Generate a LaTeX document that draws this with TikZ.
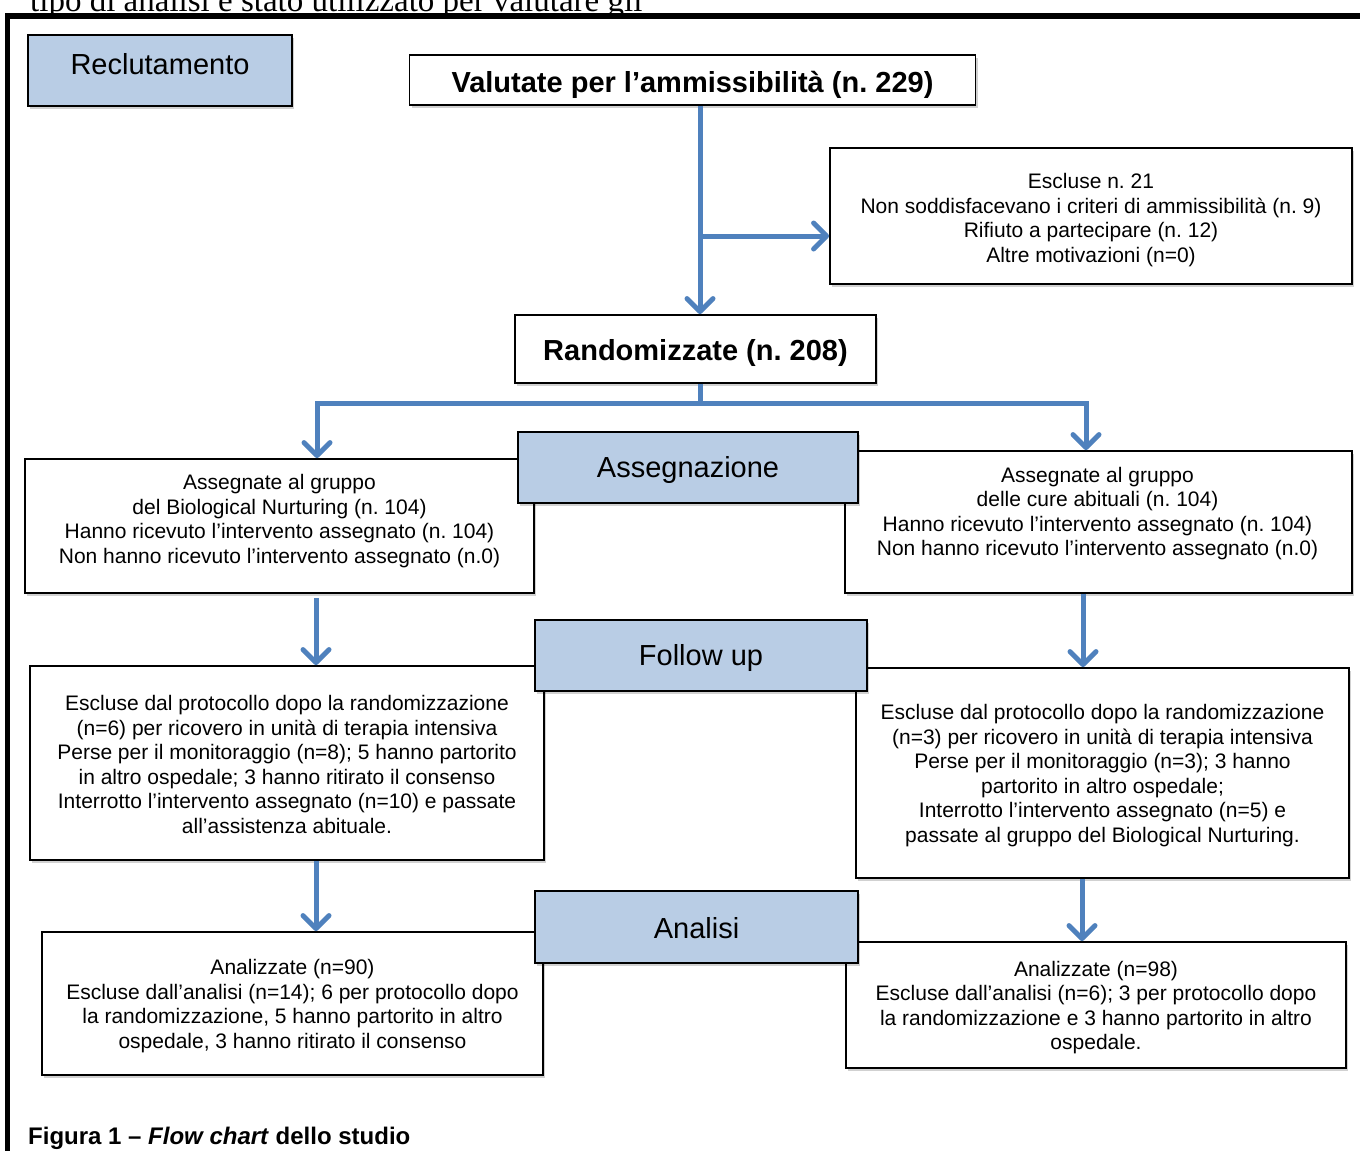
\documentclass[tikz,border=0pt]{standalone}
\usepackage{fontspec}
\setmainfont{Liberation Sans}
\newfontfamily\serifcut{Liberation Serif}
\usetikzlibrary{arrows.meta,shadows}
\definecolor{secfill}{HTML}{B9CDE5}
\definecolor{arrblue}{HTML}{4F81BD}
\frenchspacing
\tikzset{
  box/.style={draw=black, line width=1.8pt, fill=white, inner sep=0pt,
    drop shadow={shadow xshift=2pt, shadow yshift=-3pt, opacity=0.18, fill=black}},
  secbox/.style={box, fill=secfill},
  txt/.style={align=center, inner sep=0pt, font=\fontsize{21}{24.5}\selectfont},
  sectxt/.style={inner sep=0pt, font=\fontsize{29}{33}\selectfont},
  boldtxt/.style={inner sep=0pt, font=\fontsize{29}{33}\selectfont\bfseries},
  arr/.style={draw=arrblue, line width=5pt, -{Straight Barb[round, length=13pt, width=26pt, line width=5pt]}},
  conn/.style={draw=arrblue, line width=5pt},
}
\begin{document}
\begin{tikzpicture}[x=1pt, y=-1pt]
\clip (0,0) rectangle (1360,1151);
\useasboundingbox (0,0) rectangle (1360,1151);
\fill[white] (0,0) rectangle (1360,1151);
% cut-off text and frame
\node[anchor=base west, inner sep=0pt, font=\fontsize{33}{37}\selectfont\serifcut] (cut) at (30,12) {tipo di analisi è stato utilizzato per valutare gli};
\draw[line width=5.5pt] (7.5,1160) -- (7.5,16) -- (1370,16);

% boxes (bottom layer)
\node[box, minimum width=566, minimum height=50] (val) at (692.5,80) {};
\node[boldtxt] (valt) at (692.5,85) {Valutate per l’ammissibilità (n. 229)};

\node[box, minimum width=522, minimum height=136] (esc) at (1091,216) {};
\node[txt] (esct) at (1091,220) {Escluse n. 21\\Non soddisfacevano i criteri di ammissibilità (n. 9)\\Rifiuto a partecipare (n. 12)\\Altre motivazioni (n=0)};

\node[box, minimum width=361, minimum height=68] (rand) at (695.5,349) {};
\node[boldtxt] (randt) at (695.5,353) {Randomizzate (n. 208)};

\node[box, minimum width=509, minimum height=134] (lb1) at (279.5,526) {};
\node[txt] (lb1t) at (279.5,521) {Assegnate al gruppo\\del Biological Nurturing (n. 104)\\Hanno ricevuto l’intervento assegnato (n. 104)\\Non hanno ricevuto l’intervento assegnato (n.0)};

\node[box, minimum width=507, minimum height=142] (rb1) at (1098.5,522) {};
\node[txt] (rb1t) at (1097.5,513.5) {Assegnate al gruppo\\delle cure abituali (n. 104)\\Hanno ricevuto l’intervento assegnato (n. 104)\\Non hanno ricevuto l’intervento assegnato (n.0)};

\node[box, minimum width=514, minimum height=194] (lb2) at (287,763) {};
\node[txt] (lb2t) at (287,764.5) {Escluse dal protocollo dopo la randomizzazione\\(n=6) per ricovero in unità di terapia intensiva\\Perse per il monitoraggio (n=8); 5 hanno partorito\\in altro ospedale; 3 hanno ritirato il consenso\\Interrotto l’intervento assegnato (n=10) e passate\\all’assistenza abituale.};

\node[box, minimum width=493, minimum height=210] (rb2) at (1102.5,773) {};
\node[txt] (rb2t) at (1102.5,775.5) {Escluse dal protocollo dopo la randomizzazione\\(n=3) per ricovero in unità di terapia intensiva\\Perse per il monitoraggio (n=3); 3 hanno\\partorito in altro ospedale;\\Interrotto l’intervento assegnato (n=5) e\\passate al gruppo del Biological Nurturing.};

\node[box, minimum width=501, minimum height=143] (lb3) at (292.5,1003.5) {};
\node[txt] (lb3t) at (292.5,1006) {Analizzate (n=90)\\Escluse dall’analisi (n=14); 6 per protocollo dopo\\la randomizzazione, 5 hanno partorito in altro\\ospedale, 3 hanno ritirato il consenso};

\node[box, minimum width=500, minimum height=126] (rb3) at (1096,1005) {};
\node[txt] (rb3t) at (1096,1007.5) {Analizzate (n=98)\\Escluse dall’analisi (n=6); 3 per protocollo dopo\\la randomizzazione e 3 hanno partorito in altro\\ospedale.};

% section boxes (on top)
\node[secbox, minimum width=264, minimum height=71] (rec) at (160,70.5) {};
\node[sectxt] (rect) at (160,64) {Reclutamento};
\node[secbox, minimum width=340, minimum height=71] (ass) at (688,467.5) {};
\node[sectxt] (asst) at (688,470) {Assegnazione};
\node[secbox, minimum width=332, minimum height=71] (fol) at (701,655.5) {};
\node[sectxt] (folt) at (701,658) {Follow up};
\node[secbox, minimum width=323, minimum height=72] (ana) at (696.5,927) {};
\node[sectxt] (anat) at (696.5,928) {Analisi};

% connectors
\coordinate (cx) at (700,0);
\coordinate (br) at (700,236);
\coordinate (sp) at (700,403);
\coordinate (cl) at (317,0);
\coordinate (cr) at (1086,0);
\coordinate (dl) at (316,0);
\coordinate (dr) at (1083,0);
\coordinate (el) at (316,0);
\coordinate (er) at (1082,0);
\draw[arr] (val.south -| cx) -- (rand.north -| cx);
\draw[arr] (br) -- (br -| esc.west);
\draw[conn] (rand.south -| cx) -- (sp);
\draw[arr] (sp) -| (lb1.north -| cl);
\draw[arr] (sp) -| (rb1.north -| cr);
\draw[arr] ([yshift=-4pt]lb1.south -| dl) -- (lb2.north -| dl);
\draw[arr] (rb1.south -| dr) -- (rb2.north -| dr);
\draw[arr] (lb2.south -| el) -- (lb3.north -| el);
\draw[arr] (rb2.south -| er) -- (rb3.north -| er);

% caption
\node[anchor=base west, inner sep=0pt, font=\fontsize{24}{28}\selectfont\bfseries] (cap) at (28,1144) {Figura 1 – \textit{Flow chart} dello studio};
\end{tikzpicture}
\end{document}
